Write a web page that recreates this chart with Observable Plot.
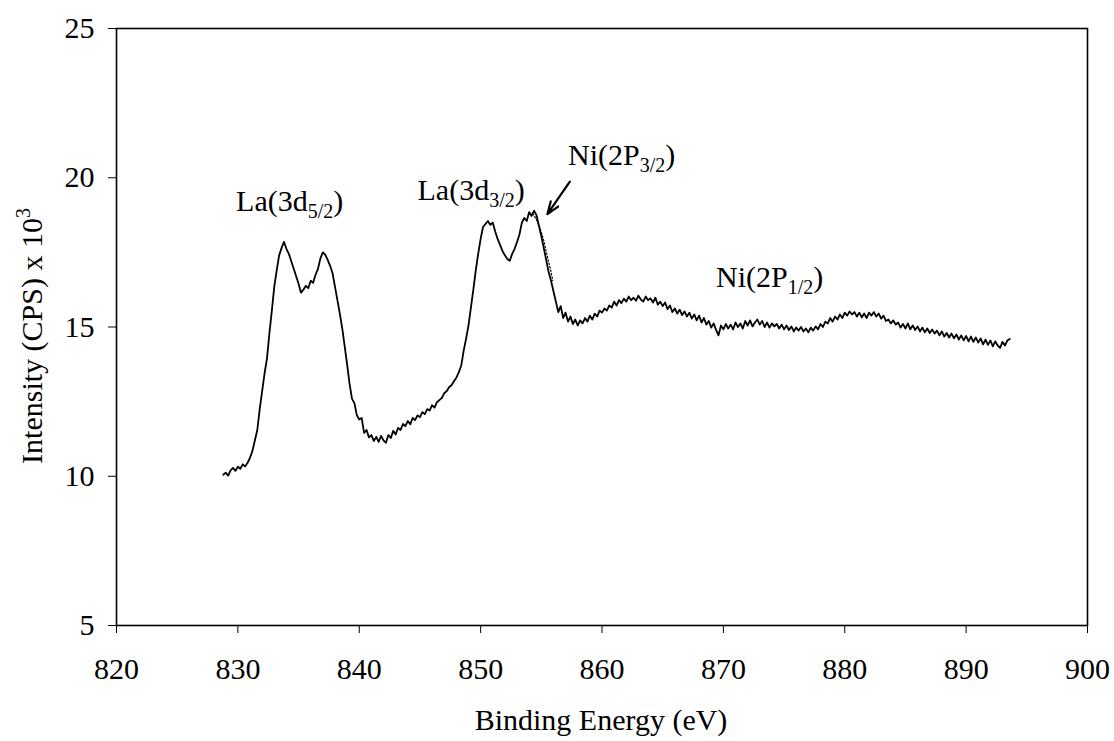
<!DOCTYPE html>
<html>
<head>
<meta charset="utf-8">
<script src="https://cdn.jsdelivr.net/npm/d3@7"></script>
<script src="https://cdn.jsdelivr.net/npm/@observablehq/plot@0.6"></script>
<style>
  body { margin: 0; background: #fff; }
  svg { display: block; }
</style>
</head>
<body>
<div id="chart"></div>
<script>
// XPS scan: La 3d / Ni 2p region, channels every 0.2 eV starting at 828.8 eV
const energyStart = 828.8;
const energyStep = 0.2;

// Intensity (CPS x 10^3), one value per channel, 828.8 .. 893.6 eV (10 values per 2 eV)
const intensity = [
  10.05, 10.12, 10.02, 10.20, 10.28, 10.18, 10.32, 10.25, 10.40, 10.33,
  10.45, 10.62, 10.85, 11.20, 11.55, 12.25, 12.85, 13.45, 13.95, 14.80,
  15.55, 16.35, 16.90, 17.40, 17.65, 17.85, 17.62, 17.45, 17.20, 16.95,
  16.70, 16.45, 16.15, 16.25, 16.38, 16.30, 16.55, 16.48, 16.75, 16.95,
  17.30, 17.50, 17.42, 17.25, 17.05, 16.80, 16.35, 15.90, 15.45, 14.95,
  14.35, 13.75, 13.10, 12.60, 12.45, 12.05, 11.90, 11.95, 11.45, 11.55,
  11.30, 11.38, 11.18, 11.32, 11.15, 11.35, 11.20, 11.12, 11.38, 11.28,
  11.52, 11.40, 11.62, 11.55, 11.75, 11.68, 11.85, 11.74, 11.95, 11.88,
  12.04, 11.98, 12.15, 12.08, 12.25, 12.20, 12.38, 12.30, 12.48, 12.55,
  12.62, 12.78, 12.85, 12.98, 13.05, 13.18, 13.30, 13.48, 13.70, 14.20,
  14.60, 15.05, 15.65, 16.25, 16.90, 17.45, 17.95, 18.35, 18.45, 18.55,
  18.42, 18.50, 18.20, 17.95, 17.75, 17.55, 17.40, 17.28, 17.22, 17.45,
  17.62, 17.85, 18.10, 18.50, 18.65, 18.55, 18.85, 18.72, 18.90, 18.75,
  18.40, 18.05, 17.65, 17.25, 16.85, 16.55, 16.20, 15.85, 15.50, 15.70,
  15.30, 15.48, 15.18, 15.35, 15.10, 15.25, 15.05, 15.22, 15.12, 15.30,
  15.18, 15.38, 15.25, 15.45, 15.35, 15.55, 15.48, 15.62, 15.55, 15.72,
  15.65, 15.85, 15.72, 15.90, 15.80, 15.95, 15.85, 16.02, 15.90, 15.98,
  15.88, 16.05, 15.92, 15.85, 16.02, 15.90, 15.96, 15.82, 15.98, 15.75,
  15.85, 15.70, 15.82, 15.60, 15.72, 15.50, 15.62, 15.45, 15.58, 15.40,
  15.52, 15.35, 15.48, 15.28, 15.42, 15.22, 15.38, 15.15, 15.30, 15.08,
  15.20, 14.98, 15.12, 14.90, 14.72, 15.05, 14.92, 15.10, 14.95, 15.08,
  14.92, 15.15, 15.00, 15.12, 14.95, 15.20, 15.05, 15.22, 15.02, 15.15,
  15.25, 15.08, 15.20, 15.00, 15.15, 14.98, 15.12, 15.02, 15.10, 14.95,
  15.08, 14.92, 15.05, 14.90, 15.02, 14.85, 14.98, 14.88, 15.00, 14.85,
  14.95, 14.82, 14.98, 14.88, 15.02, 14.92, 15.10, 15.00, 15.18, 15.12,
  15.30, 15.18, 15.35, 15.25, 15.42, 15.30, 15.48, 15.38, 15.52, 15.42,
  15.50, 15.35, 15.48, 15.32, 15.45, 15.30, 15.48, 15.38, 15.50, 15.35,
  15.45, 15.28, 15.38, 15.20, 15.25, 15.12, 15.22, 15.08, 15.15, 14.98,
  15.10, 14.95, 15.12, 14.92, 15.05, 14.90, 15.02, 14.85, 14.98, 14.82,
  14.95, 14.80, 14.92, 14.78, 14.88, 14.72, 14.85, 14.68, 14.80, 14.65,
  14.78, 14.62, 14.75, 14.58, 14.72, 14.55, 14.70, 14.52, 14.68, 14.50,
  14.65, 14.48, 14.62, 14.42, 14.58, 14.40, 14.55, 14.35, 14.52, 14.38,
  14.30, 14.50, 14.38, 14.55, 14.60
];

// Dotted fitted shoulder on the high-energy side of the Ni 2p3/2 peak
const shoulderEnergy = [854.3, 854.6, 854.9, 855.2, 855.5, 855.8, 855.95];
const shoulderIntensity = [18.80, 18.60, 18.30, 17.90, 17.35, 16.85, 16.55];

// Peak labels (main text, subscript, anchor point in data units)
const labelMain = ["La(3d", "La(3d", "Ni(2P", "Ni(2P"];
const labelSub = ["5/2", "3/2", "3/2", "1/2"];
const labelEnergy = [829.85, 844.8, 857.2, 869.4];
const labelIntensity = [19.2, 19.59, 20.75, 16.66];

// Arrow pointing at the Ni 2p3/2 peak
const arrowEnergy = [857.35, 855.5];
const arrowIntensity = [19.87, 18.78];

const xTicks = [820, 830, 840, 850, 860, 870, 880, 890, 900];
const yTicks = [5, 10, 15, 20, 25];

const spectrum = intensity.map((v, i) => ({
  energy: +(energyStart + i * energyStep).toFixed(1),
  value: v
}));
const shoulder = shoulderEnergy.map((e, i) => ({energy: e, value: shoulderIntensity[i]}));
const labels = labelMain.map((m, i) => ({
  main: m, sub: labelSub[i], energy: labelEnergy[i], value: labelIntensity[i]
}));
const arrows = [{x1: arrowEnergy[0], y1: arrowIntensity[0], x2: arrowEnergy[1], y2: arrowIntensity[1]}];

const FONT = "'Liberation Serif', 'Times New Roman', serif";

const chart = Plot.plot({
  width: 1114,
  height: 741,
  marginLeft: 116,
  marginRight: 27,
  marginTop: 28,
  marginBottom: 116,
  style: {fontFamily: FONT, fontSize: "30px", color: "black", background: "white"},
  x: {domain: [820, 900], ticks: xTicks, tickSize: 8, tickPadding: 24, label: null},
  y: {domain: [5, 25], ticks: yTicks, tickSize: 8, tickPadding: 14, label: null},
  marks: [
    Plot.frame({stroke: "black", strokeWidth: 1.6}),
    Plot.line(shoulder, {x: "energy", y: "value", stroke: "black", strokeWidth: 1.2, strokeDasharray: "1.5,2"}),
    Plot.line(spectrum, {x: "energy", y: "value", stroke: "black", strokeWidth: 1.8, strokeLinejoin: "round"}),
    Plot.arrow(arrows, {x1: "x1", y1: "y1", x2: "x2", y2: "y2", stroke: "black", strokeWidth: 2.2, headLength: 13, headAngle: 40}),
    Plot.text(labels, {
      x: "energy", y: "value", text: d => d.main + d.sub + ")",
      textAnchor: "start", lineAnchor: "middle", fontSize: 30, fill: "black"
    })
  ]
});

document.getElementById("chart").appendChild(chart);

const svg = d3.select(chart);

// Peak labels: rebuild as main text + lowered subscript + closing parenthesis
svg.selectAll('g[aria-label="text"] text').each(function (_, i) {
  const d = labels[i];
  const t = d3.select(this);
  t.text(null);
  t.append("tspan").text(d.main);
  t.append("tspan").attr("dy", 7).attr("font-size", 20).text(d.sub);
  t.append("tspan").attr("dy", -7).text(")");
});

// Axis titles
svg.append("text")
  .attr("x", 601).attr("y", 730)
  .attr("text-anchor", "middle")
  .attr("font-family", FONT).attr("font-size", 30).attr("fill", "black")
  .text("Binding Energy (eV)");

const yTitle = svg.append("text")
  .attr("transform", "translate(42,336) rotate(-90)")
  .attr("text-anchor", "middle")
  .attr("font-family", FONT).attr("font-size", 30).attr("fill", "black");
yTitle.append("tspan").text("Intensity (CPS) x 10");
yTitle.append("tspan").attr("dy", -12).attr("font-size", 20).text("3");
</script>
</body>
</html>
